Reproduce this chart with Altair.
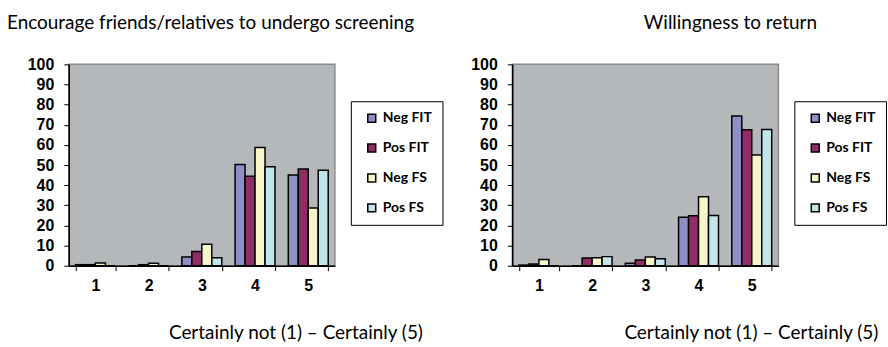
import altair as alt
import pandas as pd

categories = ["1", "2", "3", "4", "5"]
series = ["Neg FIT", "Pos FIT", "Neg FS", "Pos FS"]
colors = ["#8E8FC6", "#922C66", "#F8F6C8", "#C2E5EC"]

# Encourage friends/relatives to undergo screening
enc_neg_fit = [0.5, 0.0, 4.3, 50.3, 45.0]
enc_pos_fit = [0.5, 0.5, 7.1, 44.4, 48.0]
enc_neg_fs = [1.3, 1.2, 10.7, 58.7, 28.7]
enc_pos_fs = [0.0, 0.0, 4.0, 49.2, 47.4]

# Willingness to return
ret_neg_fit = [0.3, 0.0, 1.2, 24.1, 74.4]
ret_pos_fit = [0.8, 3.8, 2.8, 24.8, 67.5]
ret_neg_fs = [3.1, 4.0, 4.3, 34.2, 55.0]
ret_pos_fs = [0.0, 4.5, 3.5, 24.9, 67.7]

title_left = "Encourage friends/relatives to undergo screening"
title_right = "Willingness to return"
x_title = "Certainly not (1) \u2013 Certainly (5)"


def long_df(values_by_series):
    rows = []
    for s, vals in zip(series, values_by_series):
        for c, v in zip(categories, vals):
            rows.append({"cat": c, "series": s, "value": v})
    return pd.DataFrame(rows)


def panel(df, title, title_dx, x_title_x):
    return (
        alt.Chart(df)
        .mark_bar(stroke="black", strokeWidth=1.5)
        .encode(
            x=alt.X(
                "cat:N",
                sort=categories,
                scale=alt.Scale(paddingInner=0.25, paddingOuter=0.125),
                axis=alt.Axis(
                    labelAngle=0,
                    tickBand="extent",
                    tickSize=5,
                    tickColor="black",
                    domainColor="black",
                    domainWidth=1.5,
                    labelFont="Liberation Sans",
                    labelFontWeight="bold",
                    labelFontSize=16,
                    labelColor="black",
                    labelPadding=7,
                    title=x_title,
                    titleX=x_title_x,
                    titleY=73,
                    titleAlign="left",
                    titleAnchor="start",
                    titleBaseline="alphabetic",
                    titleFont="Lato",
                    titleFontSize=19,
                    titleFontWeight="normal",
                    titleColor="black",
                ),
            ),
            xOffset=alt.XOffset("series:N", sort=series, scale=alt.Scale(paddingInner=0, paddingOuter=0)),
            y=alt.Y(
                "value:Q",
                scale=alt.Scale(domain=[0, 100], nice=False),
                axis=alt.Axis(
                    values=list(range(0, 101, 10)),
                    grid=False,
                    title=None,
                    tickSize=5,
                    tickColor="black",
                    domainColor="black",
                    domainWidth=1.5,
                    labelFont="Liberation Sans",
                    labelFontWeight="bold",
                    labelFontSize=16,
                    labelColor="black",
                    labelPadding=10,
                ),
            ),
            color=alt.Color(
                "series:N",
                sort=series,
                scale=alt.Scale(domain=series, range=colors),
                title=None,
                legend=alt.Legend(
                    orient="none",
                    legendX=283,
                    legendY=37,
                    strokeColor="black",
                    fillColor="white",
                    padding=10,
                    rowPadding=16,
                    symbolType="square",
                    symbolSize=64,
                    symbolStrokeColor="black",
                    symbolStrokeWidth=1.5,
                    symbolOffset=4,
                    labelFont="Lato",
                    labelFontWeight="bold",
                    labelFontSize=14,
                    labelColor="black",
                    labelOffset=4,
                ),
            ),
        )
        .properties(
            width=267,
            height=202,
            title=alt.TitleParams(
                title,
                anchor="start",
                frame="group",
                dx=title_dx,
                offset=8,
                baseline="alphabetic",
                font="Lato",
                fontSize=19,
                fontWeight="normal",
                color="black",
            ),
        )
    )


left = panel(long_df([enc_neg_fit, enc_pos_fit, enc_neg_fs, enc_pos_fs]), title_left, -62, 100)
right = panel(long_df([ret_neg_fit, ret_pos_fit, ret_neg_fs, ret_pos_fs]), title_right, 132, 112)

chart = (
    alt.hconcat(left, right, spacing=178, bounds="flush")
    .resolve_scale(color="independent")
    .resolve_legend(color="independent")
    .properties(padding={"left": 6, "top": 13, "right": 0, "bottom": 0}, background="white")
    .configure_view(fill="#B5B8BA", stroke="#8A8A8A", strokeWidth=1.5)
)

chart.save("out.html", embed_options={"renderer": "svg", "actions": False})
